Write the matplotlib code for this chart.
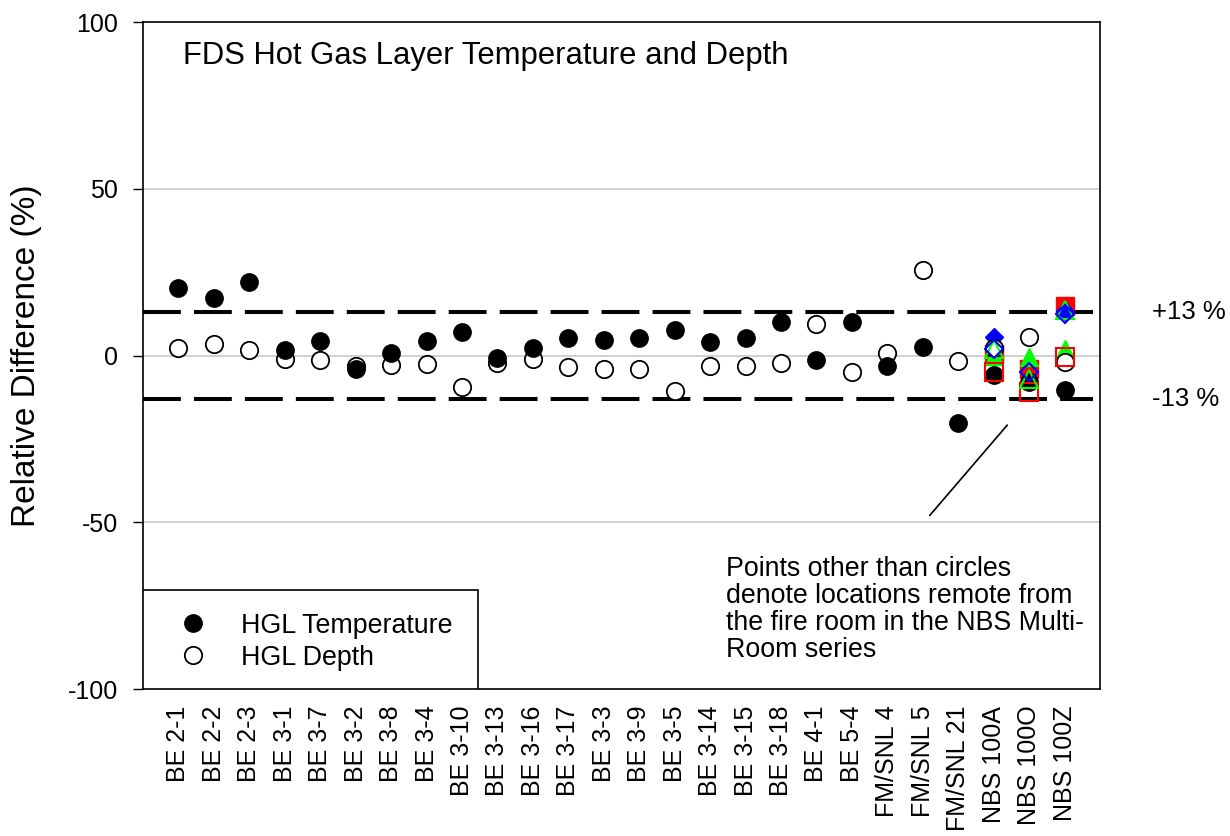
import numpy as np
import matplotlib.pyplot as plt
from matplotlib.patches import Rectangle

plt.rcParams['font.family'] = ['Liberation Sans', 'DejaVu Sans']

# Categorías del eje X
tests = ['BE 2-1', 'BE 2-2', 'BE 2-3', 'BE 3-1', 'BE 3-7', 'BE 3-2', 'BE 3-8',
         'BE 3-4', 'BE 3-10', 'BE 3-13', 'BE 3-16', 'BE 3-17', 'BE 3-3', 'BE 3-9',
         'BE 3-5', 'BE 3-14', 'BE 3-15', 'BE 3-18', 'BE 4-1', 'BE 5-4',
         'FM/SNL 4', 'FM/SNL 5', 'FM/SNL 21', 'NBS 100A', 'NBS 100O', 'NBS 100Z']

# Diferencia relativa (%) - temperatura y profundidad de la capa caliente
hgl_temp = [20.3, 17.3, 22.1, 1.6, 4.3, -4.1, 0.8, 4.3, 7.0, -0.8, 2.2,
            5.3, 4.8, 5.3, 7.8, 4.0, 5.3, 10.0, -1.3, 10.0,
            -3.0, 2.6, -20.1, -5.8, -8.0, -10.3]
hgl_depth = [2.2, 3.4, 1.6, -1.1, -1.3, -3.2, -2.8, -2.6, -9.5, -2.2, -1.1,
             -3.5, -3.9, -4.1, -10.5, -3.2, -3.2, -2.2, 9.4, -4.8,
             0.8, 25.6, -1.6, 2.2, 5.5, -1.8]

# Cuartos remotos en la serie NBS (100A, 100O, 100Z)
nbs_tests = ['NBS 100A', 'NBS 100O', 'NBS 100Z']
room2_temp = [0.5, -3.9, 14.9]
room2_depth = [-4.8, -10.8, -0.5]
room3_temp = [0.0, -0.3, 1.9]
room3_depth = [1.9, -7.0, 13.6]
room4_temp = [5.6, np.nan, 13.5]
room4_depth = [2.0, -4.8, 12.6]

limite = 13

x = np.arange(1, len(tests) + 1)
x_nbs = np.array([tests.index(t) + 1 for t in nbs_tests])

fig = plt.figure(figsize=(12.3, 8.36), dpi=100)
ax = fig.add_axes([0.1163, 0.1758, 0.778, 0.7978])

ax.set_xlim(0, 27)
ax.set_ylim(-100, 100)

# rejilla gris
for g in [-50, 0, 50]:
    ax.axhline(g, color='#c8c8c8', linewidth=1.2, zorder=1)

# lineas de +/-13 %
for s in [limite, -limite]:
    ax.plot([0, 26.8], [s, s], color='black', linewidth=2.9,
            linestyle=(0, (9.4, 3.25)), dash_capstyle='butt', zorder=2)

ms = 12.5
# marcadores rellenos de los cuartos remotos
ax.plot(x_nbs, room2_temp, 's', color='red', ms=ms, mec='red', zorder=3)
ax.plot(x_nbs, room3_temp, '^', color='#00ff00', ms=13, mec='#00ff00', zorder=3)
ax.plot(x_nbs, room4_temp, 'D', color='blue', ms=9.5, mec='blue', zorder=3)

# círculos
ax.plot(x, hgl_depth, 'o', mfc='white', mec='black', mew=1.3, ms=ms,
        zorder=4, label='HGL Depth')
ax.plot(x, hgl_temp, 'o', mfc='black', mec='black', ms=ms,
        zorder=5, label='HGL Temperature')

# marcadores abiertos
ax.plot(x_nbs, room2_depth, 's', mfc='none', mec='red', mew=1.5, ms=ms, zorder=6)
ax.plot(x_nbs, room3_depth, '^', mfc='none', mec='#00ff00', mew=1.5, ms=13, zorder=6)
ax.plot(x_nbs, room4_depth, 'D', mfc='none', mec='blue', mew=1.5, ms=9.5, zorder=6)

ax.set_xticks(x)
ax.set_xticklabels(tests, rotation=90, fontsize=18)
ax.tick_params(axis='x', length=0, pad=12)
ax.set_yticks([-100, -50, 0, 50, 100])
ax.set_yticklabels(['-100', '-50', '0', '50', '100'], fontsize=18)
ax.tick_params(axis='y', direction='out', length=7, width=1, pad=11)

ax.set_ylabel('Relative Difference (%)', fontsize=24)
ax.yaxis.set_label_coords(-0.106, 0.5)

for sp in ax.spines.values():
    sp.set_linewidth(1.2)

ax.text(0.042, 0.949, 'FDS Hot Gas Layer Temperature and Depth', fontsize=22.3,
        transform=ax.transAxes, va='center', ha='left')

trans = ax.get_yaxis_transform()
ax.text(1.054, limite, '+13 %', fontsize=18.5, transform=trans, va='center',
        ha='left', clip_on=False)
ax.text(1.054, -limite, '-13 %', fontsize=18.5, transform=trans, va='center',
        ha='left', clip_on=False)

# nota
ax.plot([24.38, 22.2], [-20.9, -47.9], color='black', linewidth=1.2, zorder=6)
ax.text(16.45, -60.0, 'Points other than circles\ndenote locations remote from\n'
        'the fire room in the NBS Multi-\nRoom series', fontsize=19.3,
        va='top', ha='left', linespacing=1.06)

# leyenda
ax.add_patch(Rectangle((0, 0), 0.35, 0.148, transform=ax.transAxes,
                       facecolor='white', edgecolor='black', linewidth=1.2,
                       zorder=7))
h, l = ax.get_legend_handles_labels()
leg = ax.legend(h[::-1], l[::-1], loc='center left', bbox_to_anchor=(0.038, 0.071),
                frameon=False, fontsize=19.3, handlelength=1, handletextpad=1.3,
                borderpad=0, borderaxespad=0, labelspacing=0.22, markerscale=1.0)
leg.set_zorder(8)

plt.savefig('out.png', dpi=100)
